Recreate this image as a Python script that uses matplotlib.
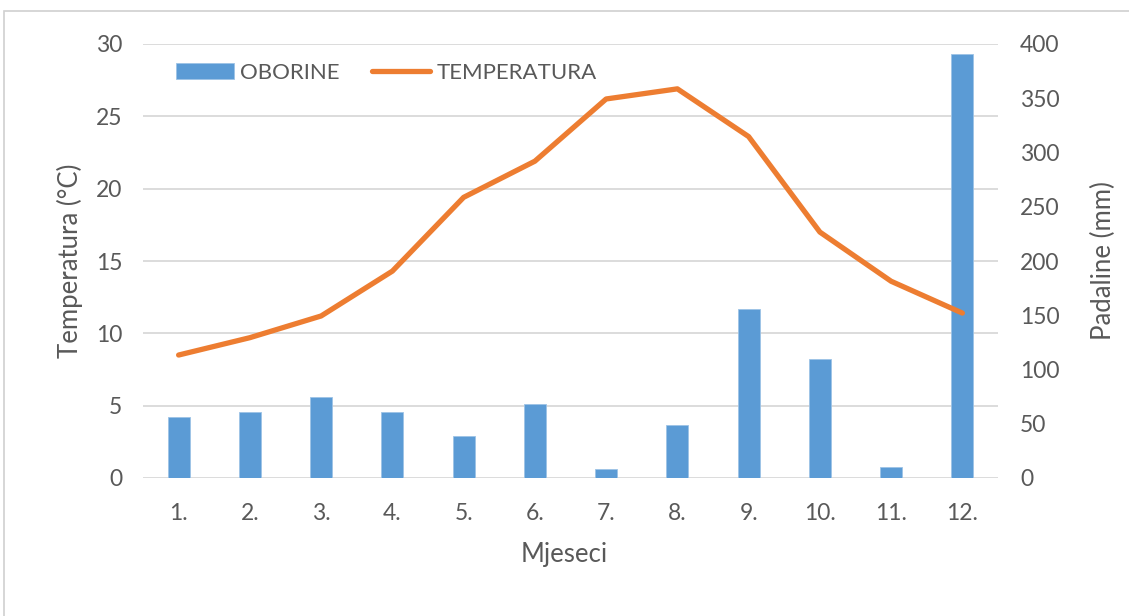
import matplotlib
matplotlib.use("Agg")
import matplotlib.pyplot as plt
from matplotlib.patches import Rectangle

# Monthly climate data
months = ["1.", "2.", "3.", "4.", "5.", "6.", "7.", "8.", "9.", "10.", "11.", "12."]
precipitation = [56, 61, 75, 61, 39, 68, 8, 49, 156, 110, 10, 391]   # mm
temperature = [8.5, 9.7, 11.2, 14.3, 19.4, 21.9, 26.2, 26.9, 23.6, 17.0, 13.6, 11.4]  # °C
temp_ticks = [0, 5, 10, 15, 20, 25, 30]
precip_ticks = [0, 50, 100, 150, 200, 250, 300, 350, 400]

BAR = "#5B9BD5"
LINE = "#ED7D31"
GRID = "#D9D9D9"
TEXT = "#595959"

plt.rcParams["font.family"] = ["Lato", "DejaVu Sans"]

fig = plt.figure(figsize=(11.29, 6.16), dpi=100)
# chart-area frame (open to the right and bottom)
fig.patches.append(Rectangle((4 / 1129, -1), 2, 2 - 11 / 616, transform=fig.transFigure,
                             fill=False, edgecolor="#D0D0D0", linewidth=1.2))

ax = fig.add_axes([143 / 1129, 1 - 478 / 616, 855 / 1129, 434 / 616])
ax2 = ax.twinx()
ax.set_zorder(2)
ax2.set_zorder(1)
ax.patch.set_visible(False)

x = list(range(len(months)))

# Precipitation bars on the right-hand scale, gridlines follow the left scale
ax2.hlines(temp_ticks, 0, 1, transform=ax.get_yaxis_transform(), color=GRID, linewidth=1.3, zorder=0)
bars = ax2.bar(x, precipitation, width=0.31, color=BAR, edgecolor="#9DC3E6", linewidth=0.6,
               zorder=2, label="OBORINE")
ax2.set_ylim(0, 400)
ax2.set_yticks(precip_ticks)

# Temperature line on the left-hand scale
line, = ax.plot(x, temperature, color=LINE, linewidth=3.8, solid_capstyle="round",
                solid_joinstyle="round", label="TEMPERATURA")
ax.set_ylim(0, 30)
ax.set_yticks(temp_ticks)
ax.set_xlim(-0.5, len(months) - 0.5)
ax.set_xticks(x)
ax.set_xticklabels(months)

for a in (ax, ax2):
    for s in a.spines.values():
        s.set_visible(False)
    a.tick_params(axis="both", length=0, labelsize=16.5, colors=TEXT)

ax.tick_params(axis="y", pad=15)
ax2.tick_params(axis="y", pad=16)
ax.tick_params(axis="x", pad=18)

ax.set_xlabel("Mjeseci", fontsize=18.5, color=TEXT)
ax.set_ylabel("Temperatura (°C)", fontsize=18.5, color=TEXT)
ax2.set_ylabel("Padaline (mm)", fontsize=18.5, color=TEXT)
ax.xaxis.set_label_coords(0.4924, -0.1774)
ax.yaxis.set_label_coords(-0.0854, 0.5)
ax2.yaxis.set_label_coords(1.1228, 0.5)
for lab in (ax.xaxis.label, ax.yaxis.label, ax2.yaxis.label):
    lab.set_verticalalignment("center")
    lab.set_horizontalalignment("center")

ax.legend([bars, line], ["OBORINE", "TEMPERATURA"], ncol=2, frameon=False,
          loc="upper left", bbox_to_anchor=(167 / 1129, 1 - 54 / 616),
          bbox_transform=fig.transFigure, fontsize=16, labelcolor=TEXT,
          handlelength=2.6, handletextpad=0.3, columnspacing=1.45, borderaxespad=0)

fig.savefig("out.png", dpi=100)
